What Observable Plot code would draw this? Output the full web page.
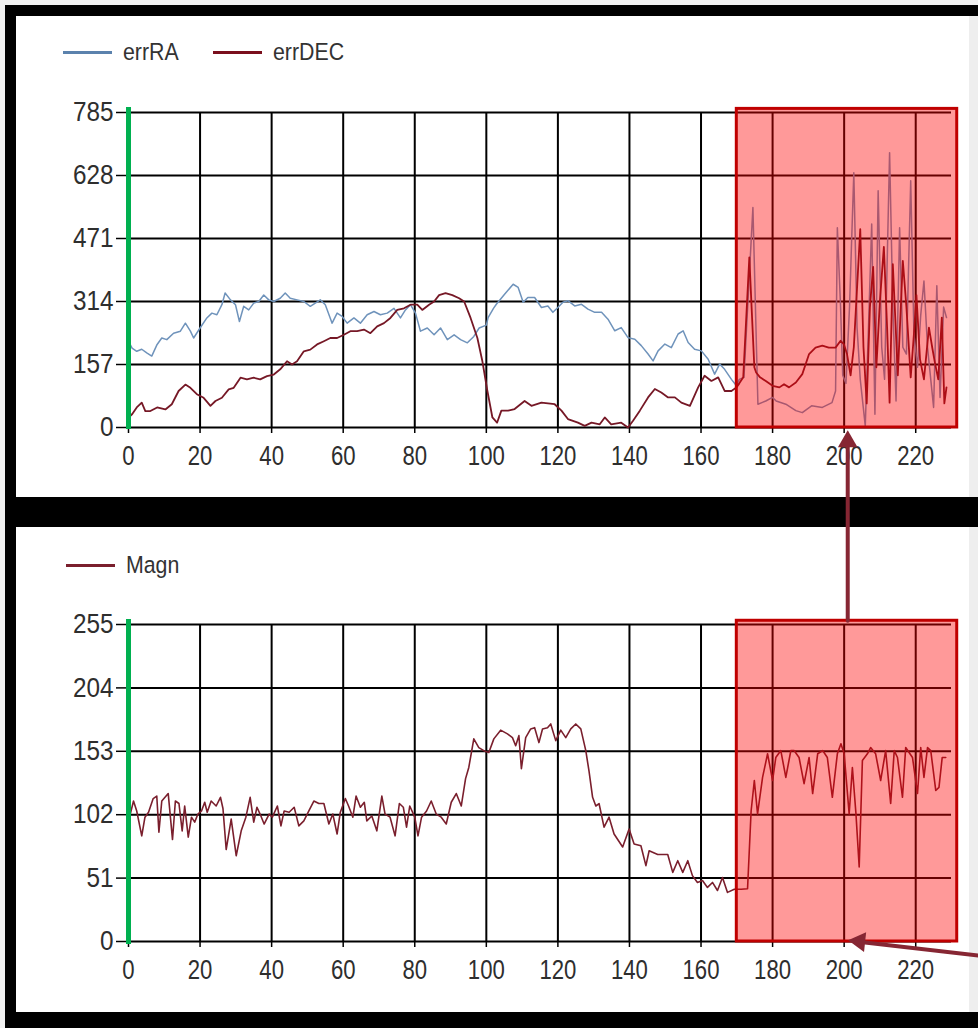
<!DOCTYPE html>
<html>
<head>
<meta charset="utf-8">
<script src="https://cdn.jsdelivr.net/npm/d3@7"></script>
<script src="https://cdn.jsdelivr.net/npm/@observablehq/plot@0.6"></script>
<style>
  html, body { margin: 0; padding: 0; background: #f0f0f0; }
  #page { position: relative; width: 978px; height: 1028px; overflow: hidden; background: #f0f0f0;
          font-family: "Liberation Sans", Arial, sans-serif; }
  .black { position: absolute; left: 5px; top: 5px; width: 973px; height: 1023px; background: #000; }
  .panel { position: absolute; left: 16px; width: 953px; background: #fff; }
  .gray { position: absolute; left: 969px; width: 9px; background: #eeeeee; }
  .leg { position: absolute; height: 30px; display: flex; align-items: center; font-size: 24.5px; color: #333; white-space: nowrap; }
  .sw { display: inline-block; width: 49px; height: 3px; margin-right: 11px; }
  .lt { display: inline-block; transform: scaleX(0.87); transform-origin: left center; }
  .chart { position: absolute; left: 16px; }
  .chart svg { overflow: visible; }
</style>
</head>
<body>
<div id="page">
  <div class="black"></div>
  <div class="panel" style="top:16px;height:481px;"></div>
  <div class="gray" style="top:16px;height:481px;"></div>
  <div class="panel" style="top:527px;height:485px;"></div>
  <div class="gray" style="top:527px;height:485px;"></div>
  <div id="legTop"></div>
  <div id="legBottom"></div>
  <div id="chartTop" class="chart" style="top:90px;"></div>
  <div id="chartBottom" class="chart" style="top:600px;"></div>
</div>
<script>
// ---------- tick values ----------
const xTicks = [0, 20, 40, 60, 80, 100, 120, 140, 160, 180, 200, 220];
const yTicksTop = [0, 157, 314, 471, 628, 785];
const yTicksBottom = [0, 51, 102, 153, 204, 255];

// ---------- series: errRA ----------
const raX = [0,1,2.3,3.7,5.1,6.5,8,9.3,10.7,12.6,14.5,15.9,17.3,18.2,20,21.9,23.3,24.7,26.1,27,28.5,29.9,31,32.2,33.6,35,36.4,37.8,39.2,40.6,42.4,43.8,45.2,47.1,49,50.8,52.2,53.6,55,56.9,58.3,59.7,61.1,63,64.8,66.7,68.6,70.4,72.3,74.2,76,77.4,78.8,80.2,81.6,83.5,85.4,87.2,89.1,91,92.8,94.7,96.5,98,100,100.5,102,102.8,105.1,107.5,108.9,110.3,111.6,113.5,115.4,117.2,118.6,120,121.4,122.8,124.7,126.6,128.4,130.3,132.2,134,135.9,137.7,139.6,141.5,143.3,145.2,146.6,148,149.9,151.7,153.6,155,156.4,158.2,160.1,162,163.8,165.2,166.6,168.5,169.9,170.7,172,174.5,175.9,178.1,180,181,183.7,186.5,188.3,190.9,193.9,196.6,197.6,198.1,199,199.6,200.5,201.5,202.7,203.6,204.5,205.9,206.8,207.7,208.6,209.5,210.5,211.3,212.7,213.6,214.5,215.5,216.4,217.4,218.6,219.5,220.5,221.4,222.3,223.3,224.2,225,225.9,226.8,227.8,228.6];
const raY = [215,198,190,195,186,178,207,223,219,235,240,260,240,223,248,273,285,281,306,335,318,306,264,302,293,310,314,330,318,314,322,335,322,318,314,302,310,318,306,260,285,277,260,273,260,281,289,281,285,297,273,293,306,285,240,248,231,248,219,231,219,211,227,248,255,274,297,307,332,357,349,312,324,324,299,303,287,299,312,316,303,307,295,287,287,270,241,249,224,220,204,183,166,191,208,199,233,241,212,195,191,170,133,158,145,120,104,120,125,548,58,66,75,66,58,42,37,54,50,62,91,498,300,130,110,300,635,250,120,4,250,507,33,590,200,120,685,300,66,498,200,183,615,233,150,280,365,200,120,50,353,75,300,274];

// ---------- series: errDEC ----------
const decX = [0,1,2.3,3.7,4.7,6.1,8,10.3,12.1,14,15.9,17.3,19.1,21,22.9,24.3,26.1,28,29.4,31.3,33.1,35,36.8,38.7,40.6,42.4,44.3,45.7,47.1,49,50.8,52.7,54.6,56.4,58.3,60.2,62,63.9,65.8,67.6,69.5,71.4,73.2,75.1,77,78.8,80.7,82.1,84,85.4,86.8,88.6,90.5,92.4,93.8,95.6,97.5,98.9,100.3,101.7,103,104.2,106.1,107.9,110.7,112.6,115.4,119.1,121,122.8,125.6,127.5,129.4,131.7,133.1,134.9,137.7,139.6,141,142.9,145.2,147.1,148.9,150.8,152.7,154.5,156.9,159.2,161,162.9,164.8,166.6,168.5,169.9,170.7,171.8,173.5,174.9,175.4,176.5,178.1,180,181.9,183.2,184.6,186.5,188.3,190.2,192,193.9,195.7,197.6,199,199.9,200.8,201.8,202.7,204.5,205.4,206.3,207.2,208.1,209,210,211.1,212,212.7,213.6,214.4,215,216.4,217.4,218.6,219.5,220.2,221.2,222.3,223.7,224.6,225.4,226.3,227.3,228,228.6];
const decY = [25,33,50,62,41,41,50,45,58,91,107,99,83,74,54,66,74,95,99,124,120,124,120,128,132,145,165,157,165,190,194,207,215,223,223,231,240,240,244,235,252,260,273,293,297,306,306,293,306,314,330,335,330,322,314,273,223,165,91,25,12,42,42,46,66,54,62,58,42,21,12,4,12,8,25,8,12,0,17,42,75,96,87,75,75,62,54,100,129,116,125,91,91,100,110,125,424,150,137,125,116,104,100,108,100,112,133,183,199,204,199,199,216,208,183,130,200,494,200,60,300,400,150,316,450,250,62,407,250,130,415,300,125,233,330,170,120,249,200,160,120,274,60,100];

// ---------- series: Magn ----------
const magX = [0.5,1.4,2.3,3.7,4.6,5.6,6.9,7.9,8.5,9.3,10.2,11.1,12.3,13.1,14.1,15,15.7,16.7,17.6,18.5,19.4,20.4,21.3,22,23.1,24.5,25.7,26.4,27.3,28.7,30.1,31.5,32.8,34,35,35.9,37,37.9,39.3,40.2,41.6,42.6,43.5,44.9,46.3,47.6,49,50.4,51.8,53.2,54.6,56,57.1,58.3,59.2,60.6,61.5,62.7,63.6,64.8,65.9,66.6,68,69.4,70.8,71.7,73.1,74.5,75.7,76.8,77.7,78.6,80,80.9,81.9,83.3,84.6,86,87.4,88.8,90.2,91.6,93,94.2,95.1,96.5,97.9,99.3,100.7,102.1,104,105.9,107.3,108.2,109.1,109.8,111,112.4,113.5,114.7,115.7,117.1,118,119.4,120.8,122.2,123.6,125,126.4,127.8,128.7,129.7,130.6,131.5,132.9,134.3,135.7,138.1,139.9,141.3,143.2,144.6,145.5,147.9,150.7,152.1,153.5,154.9,156.3,157.6,159,160.4,161.8,163.2,164.6,166,167.4,169.3,171.2,173,174,174.9,175.8,177.2,178.6,180,180.9,182.3,183.7,185.1,186,187.4,188.8,190.2,191.2,192.6,194,195.3,196.7,198.1,199.1,200,201.4,202.3,203.3,204.2,205.1,206.5,207.4,208.8,210.2,211.6,213,214,214.9,216.3,217.2,219.1,220.5,221.4,222.3,223.3,224.2,225.6,226.5,227.4,228.4];
const magY = [102.5,113,105,85,100,104,115,117,88,113,116,119,82,113,111,89,109,84,100,96,102.5,105,112,104,113,109,116,107,74,98.5,69,89,100,116,96,108,101,94.5,102.5,100,109,93,105,104,108,93,97,105,113,111,111,94.5,102.5,86.5,104,115,109,100,117,108,112,97,101,89,117,102.5,100,85,111,108,92,109,100,85,100,105,113,102.5,100,94.5,112,119,109,131,140,163,156,153.5,152,163,170,167,164,157.5,165.6,139,164,171,172,160,171,172,175,161.6,170,164,171,175,171,153.5,137,116,109,111,92,100,86.5,76,90.5,78.4,77,61,73,70,70,55.6,65,55.6,65,53,47.5,49,43.5,47.5,41,51.5,39.5,42,42,42.4,105,129.5,102.7,132,151,129.5,148,153.6,132,153.6,153.6,148,127,148,119,151,153.6,148,116,151,159,151,102.7,140,102.7,60,145.6,151,156,151,129.5,153.6,111,153.6,148,116,156,148,119,156,132,156,153.6,121.5,124,148,148];

// ---------- annotations (data coordinates) ----------
const highlightTop = [{x1: 170, x2: 231.6, y1: 0, y2: 794}];
const highlightBottom = [{x1: 170, x2: 231.6, y1: 0, y2: 258}];
const arrowUp = [{x1: 201, y1: 258, x2: 201, y2: 411}];        // bottom box -> top box
const arrowSide = [{x1: 237.6, y1: -11.3, x2: 201.2, y2: 0.8}];  // from right edge -> 200 tick

// ---------- colours / legend ----------
const colRA = "#6f93bb";
const colDEC = "#761826";
const colMag = "#7a1f2d";
const colArrow = "#862633";

function legend(el, top, items) {
  const host = document.getElementById(el);
  items.forEach(([label, color, left]) => {
    const d = document.createElement("div");
    d.className = "leg";
    d.style.left = left + "px";
    d.style.top = (top - 15) + "px";
    d.innerHTML = `<span class="sw" style="background:${color}"></span><span class="lt">${label}</span>`;
    host.appendChild(d);
  });
}
legend("legTop", 52, [["errRA", "#5b82ad", 63], ["errDEC", "#7a0f1c", 213]]);
legend("legBottom", 565, [["Magn", "#7a1f2d", 66]]);

const ra = raX.map((x, i) => ({x, y: raY[i]}));
const dec = decX.map((x, i) => ({x, y: decY[i]}));
const mag = magX.map((x, i) => ({x, y: magY[i]}));

const fontFam = '"Liberation Sans", Arial, sans-serif';
const gridStyle = {stroke: "#000", strokeOpacity: 1, strokeWidth: 2};

function baseMarks(yTicks) {
  return [
    Plot.gridX({ticks: xTicks, ...gridStyle}),
    Plot.gridY({ticks: yTicks, ...gridStyle}),
    Plot.axisX({ticks: xTicks, tickSize: 6, tickPadding: 12, label: null, stroke: "#000", fill: "#2e2e2e", strokeWidth: 1.5}),
    Plot.axisY({ticks: yTicks, tickSize: 12, tickPadding: 3, label: null, stroke: "#000", fill: "#2e2e2e", strokeWidth: 1.5})
  ];
}

// narrow the tick labels like the original condensed UI font
function condense(svg) {
  const sets = [["x-axis tick label", 0.82], ["y-axis tick label", 0.9]];
  sets.forEach(([lab, k]) => {
    svg.querySelectorAll(`g[aria-label="${lab}"] text`).forEach(t => {
      const L = t.getComputedTextLength();
      t.setAttribute("textLength", (L * k).toFixed(2));
      t.setAttribute("lengthAdjust", "spacingAndGlyphs");
    });
  });
}

const plotTop = Plot.plot({
  width: 953, height: 407,
  marginLeft: 112, marginRight: 18, marginTop: 22, marginBottom: 70,
  style: {background: "transparent", overflow: "visible", fontFamily: fontFam, fontSize: "27px"},
  x: {domain: [0, 230]},
  y: {domain: [0, 785]},
  marks: [
    ...baseMarks(yTicksTop),
    Plot.line(ra, {x: "x", y: "y", stroke: colRA, strokeWidth: 1.5}),
    Plot.line(dec, {x: "x", y: "y", stroke: colDEC, strokeWidth: 1.8}),
    Plot.ruleX([0], {stroke: "#00b050", strokeWidth: 5, insetTop: -5, insetBottom: -2}),
    Plot.rect(highlightTop, {x1: "x1", x2: "x2", y1: "y1", y2: "y2", fill: "#ff0000", fillOpacity: 0.4, stroke: "#c00000", strokeWidth: 3})
  ]
});
document.getElementById("chartTop").appendChild(plotTop);
condense(plotTop);

const plotBottom = Plot.plot({
  width: 953, height: 412,
  marginLeft: 112, marginRight: 18, marginTop: 24, marginBottom: 71,
  style: {background: "transparent", overflow: "visible", fontFamily: fontFam, fontSize: "27px"},
  x: {domain: [0, 230]},
  y: {domain: [0, 255]},
  marks: [
    ...baseMarks(yTicksBottom),
    Plot.line(mag, {x: "x", y: "y", stroke: colMag, strokeWidth: 1.6}),
    Plot.ruleX([0], {stroke: "#00b050", strokeWidth: 5, insetTop: -5, insetBottom: -3}),
    Plot.rect(highlightBottom, {x1: "x1", x2: "x2", y1: "y1", y2: "y2", fill: "#ff0000", fillOpacity: 0.4, stroke: "#c00000", strokeWidth: 3}),
    Plot.arrow(arrowUp, {x1: "x1", y1: "y1", x2: "x2", y2: "y2", stroke: colArrow, strokeWidth: 4, headLength: 0, insetEnd: 10}),
    Plot.dot(arrowUp, {x: "x2", y: "y2", symbol: "triangle", r: 7.3, fill: colArrow, stroke: "none", dy: 11}),
    Plot.arrow(arrowSide, {x1: "x1", y1: "y1", x2: "x2", y2: "y2", stroke: colArrow, strokeWidth: 4, headLength: 0, insetEnd: 10}),
    Plot.dot(arrowSide, {x: "x2", y: "y2", symbol: "triangle", r: 7.3, fill: colArrow, stroke: "none", rotate: -83.8, dx: 11, dy: 1})
  ]
});
document.getElementById("chartBottom").appendChild(plotBottom);
condense(plotBottom);
</script>
</body>
</html>
